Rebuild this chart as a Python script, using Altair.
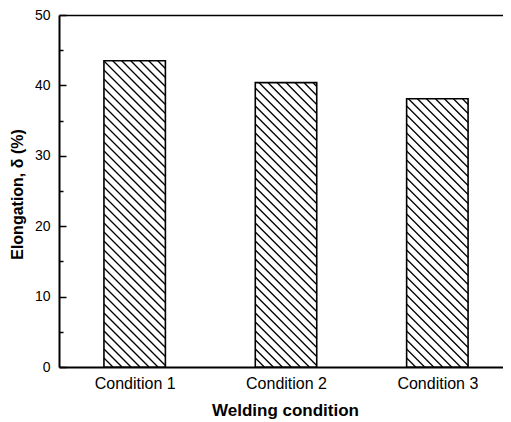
import json
import altair as alt
import pandas as pd

# ---- data ----
conditions = ["Condition 1", "Condition 2", "Condition 3"]
elongation = [43.5, 40.4, 38.1]
y_major = [0, 10, 20, 30, 40, 50]
y_all_ticks = [0, 5, 10, 15, 20, 25, 30, 35, 40, 45, 50]

# ---- layout / style constants ----
W, H = 444, 352
KX = 151.34            # px per category unit
X_MIN = 0.5
X_MAX = X_MIN + W / KX
Y_MAX = 50
BAR_HALF = 0.203
HATCH_STEP = 9
KY = H / Y_MAX
FONT = "Liberation Sans"

df = pd.DataFrame({"idx": list(range(1, len(conditions) + 1)),
                   "condition": conditions,
                   "value": elongation})

x_scale = alt.Scale(domain=[X_MIN, X_MAX], nice=False, zero=False)
y_scale = alt.Scale(domain=[0, Y_MAX], nice=False)
label_expr = json.dumps(conditions) + "[datum.value - 1]"

base = alt.Chart(df).transform_calculate(
    x0=f"datum.idx - {BAR_HALF}",
    x1=f"datum.idx + {BAR_HALF}",
)

bars_fill = base.mark_rect(fill="white").encode(
    x=alt.X("x0:Q", scale=x_scale, axis=alt.Axis(
        orient="bottom", values=[1, 2, 3], labelExpr=label_expr,
        ticks=False, tickSize=0, labelPadding=8, labelFontSize=16,
        labelFont=FONT, labelColor="black",
        title="Welding condition", titleFont=FONT, titleFontSize=17,
        titleFontWeight="bold", titleColor="black", titleY=48,
        titleX=(285 - 59), titleAlign="center",
        titleBaseline="alphabetic", domainColor="black", domainWidth=2,
        grid=False)),
    x2="x1:Q",
    y=alt.Y("value:Q", scale=y_scale, axis=alt.Axis(
        orient="left", values=y_major, ticks=False, tickSize=0,
        labelPadding=9, labelFontSize=14, labelFont=FONT, labelColor="black",
        title="Elongation, δ (%)", titleFont=FONT, titleFontSize=16,
        titleFontWeight="bold", titleColor="black", titleX=-37, titleY=179,
        titleAngle=270, titleAlign="center", titleBaseline="alphabetic",
        domainColor="black", domainWidth=2, grid=False)),
    y2=alt.datum(0),
)

hatch = base.transform_calculate(
    hp=f"datum.value * {KY}",
    wp=f"{2 * BAR_HALF * KX}",
    seq="sequence(1, 80)",
).transform_flatten(["seq"]).transform_calculate(
    s=f"datum.seq * {HATCH_STEP}"
).transform_filter(
    "datum.s < datum.wp + datum.hp"
).transform_calculate(
    xa="max(0, datum.s - datum.hp)",
    xb="min(datum.wp, datum.s)",
).transform_calculate(
    hx1=f"datum.x0 + datum.xa / {KX}",
    hy1=f"(datum.s - datum.xa) / {KY}",
    hx2=f"datum.x0 + datum.xb / {KX}",
    hy2=f"(datum.s - datum.xb) / {KY}",
).mark_rule(color="black", strokeWidth=1.3).encode(
    x=alt.X("hx1:Q", scale=x_scale, axis=alt.Axis(
        orient="top", ticks=False, labels=False, title=None,
        domainColor="black", domainWidth=1.5, grid=False)),
    x2="hx2:Q",
    y=alt.Y("hy1:Q", scale=y_scale, axis=alt.Axis(
        orient="right", offset=-W, values=y_all_ticks, labels=False,
        domain=False, title=None, grid=False, tickColor="black",
        tickWidth=1.5,
        tickSize={"condition": {"test": "datum.value % 10 === 0", "value": 7},
                  "value": 4})),
    y2="hy2:Q",
)

bars_stroke = base.mark_rect(fill="transparent", stroke="black",
                             strokeWidth=1.6).encode(
    x=alt.X("x0:Q", scale=x_scale, axis=None),
    x2="x1:Q",
    y=alt.Y("value:Q", scale=y_scale, axis=None),
    y2=alt.datum(0),
)

chart = alt.layer(bars_fill, hatch, bars_stroke).resolve_axis(
    x="independent", y="independent"
).properties(
    width=W, height=H,
    padding={"left": 51, "top": 7, "right": 0, "bottom": 53},
    autosize=alt.AutoSizeParams(type="none"),
    background="white",
).configure_view(stroke=None)

chart.save("out.html", embed_options={"renderer": "svg", "actions": False})
